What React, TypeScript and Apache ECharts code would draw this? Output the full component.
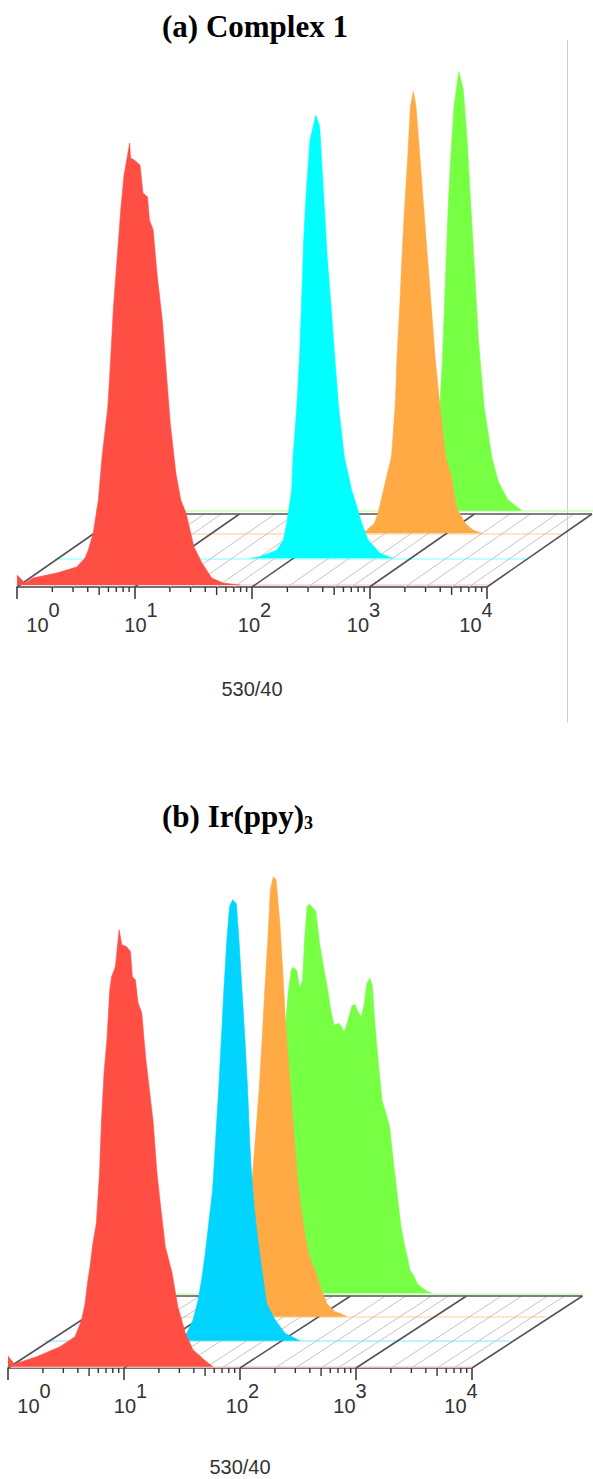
import React, { useEffect, useRef } from "react";
import * as echarts from "echarts";

// ---------------- data ----------------
// x: log10 of 530/40 fluorescence intensity (axis shows 10^0 .. 10^4), y: event count
const DECADES = [0, 1, 2, 3, 4];
const MINOR_MULT = [2, 3, 4, 5, 6, 7, 8, 9];
const FLOOR_MINOR_MULT = [2, 3, 5, 7];
const AXIS_NAME = "530/40";
const TITLE_A = "(a) Complex 1";
const TITLE_B_MAIN = "(b) Ir(ppy)";
const TITLE_B_SUB = "3";
const SERIES_NAMES = ["control", "sample 1", "sample 2", "sample 3"];

const A_RED = [
  [0.0, 10], [0.068, 2], [0.136, 7], [0.338, 12], [0.508, 18], [0.579, 27], [0.607, 35],
  [0.649, 52], [0.692, 85], [0.724, 128], [0.773, 178], [0.798, 228], [0.821, 278],
  [0.853, 328], [0.885, 378], [0.911, 410], [0.959, 442], [0.966, 427], [0.998, 425],
  [1.047, 420], [1.072, 392], [1.111, 388], [1.127, 365], [1.159, 355], [1.191, 312],
  [1.239, 262], [1.271, 212], [1.304, 162], [1.352, 112], [1.394, 85], [1.438, 72],
  [1.506, 38], [1.574, 22], [1.657, 7], [1.753, 2], [1.9, 0],
];
const A_CYAN = [
  [1.655, 0], [1.74, 1.6], [1.883, 8], [1.939, 18], [1.968, 35], [2.01, 68], [2.022, 102],
  [2.054, 152], [2.077, 202], [2.093, 252], [2.112, 318], [2.135, 368], [2.166, 418],
  [2.215, 443], [2.248, 432], [2.28, 368], [2.312, 302], [2.345, 252], [2.376, 202],
  [2.409, 152], [2.457, 102], [2.521, 68], [2.563, 52], [2.606, 35], [2.662, 18],
  [2.762, 5], [2.872, 0],
];
const A_ORANGE = [
  [2.302, 0], [2.335, 3], [2.399, 10], [2.431, 20], [2.464, 37], [2.496, 53], [2.545, 77],
  [2.576, 127], [2.592, 177], [2.615, 227], [2.634, 277], [2.657, 327], [2.683, 377],
  [2.706, 427], [2.731, 442], [2.753, 427], [2.786, 377], [2.818, 327], [2.85, 277],
  [2.883, 227], [2.915, 177], [2.957, 127], [3.004, 77], [3.06, 53], [3.094, 27],
  [3.17, 10], [3.241, 3], [3.315, 0],
];
const A_GREEN = [
  [2.426, 0], [2.511, 8], [2.57, 30], [2.604, 60], [2.637, 104], [2.66, 154], [2.676, 204],
  [2.692, 254], [2.708, 304], [2.73, 354], [2.757, 404], [2.798, 439], [2.837, 421],
  [2.869, 371], [2.901, 304], [2.934, 237], [2.965, 171], [3.014, 104], [3.078, 54],
  [3.132, 30], [3.174, 20], [3.217, 11], [3.291, 4], [3.334, 0],
];

const B_RED = [
  [0.0, 10.7], [0.06, 2], [0.075, 3.4], [0.247, 10], [0.448, 20], [0.578, 30], [0.635, 47],
  [0.664, 63], [0.687, 85], [0.707, 100], [0.73, 122], [0.762, 144], [0.789, 194],
  [0.805, 244], [0.828, 294], [0.853, 327], [0.877, 377], [0.893, 390], [0.926, 400],
  [0.958, 437], [0.981, 422], [1.023, 420], [1.056, 415], [1.072, 390], [1.098, 387],
  [1.121, 364], [1.153, 354], [1.186, 310], [1.219, 277], [1.252, 244], [1.284, 194],
  [1.316, 160], [1.356, 120], [1.414, 94], [1.464, 60], [1.528, 34], [1.594, 17],
  [1.691, 7], [1.767, 0],
];
const B_CYAN = [
  [1.095, 0], [1.178, 2.5], [1.222, 7.4], [1.276, 20.7], [1.319, 40], [1.349, 60],
  [1.379, 85], [1.412, 118], [1.445, 151], [1.471, 201], [1.497, 251], [1.52, 301],
  [1.542, 351], [1.568, 401], [1.591, 434], [1.617, 441], [1.65, 437], [1.672, 401],
  [1.698, 351], [1.724, 301], [1.747, 251], [1.764, 201], [1.78, 168], [1.803, 134],
  [1.836, 100], [1.871, 70], [1.911, 37], [1.983, 21], [2.069, 7.4], [2.155, 2.4],
  [2.198, 0],
];
const B_ORANGE = [
  [1.147, 0], [1.233, 10], [1.319, 30], [1.405, 70], [1.448, 110], [1.494, 177],
  [1.527, 227], [1.553, 277], [1.576, 327], [1.602, 377], [1.624, 427], [1.65, 440],
  [1.673, 437], [1.706, 393], [1.732, 343], [1.755, 293], [1.787, 243], [1.82, 193],
  [1.853, 143], [1.885, 110], [1.928, 77], [1.966, 57], [2.009, 47], [2.052, 30],
  [2.112, 13], [2.181, 5], [2.224, 3.4], [2.282, 0],
];
const B_GREEN = [
  [1.138, 0], [1.224, 15], [1.31, 60], [1.379, 150], [1.431, 250], [1.467, 300],
  [1.493, 323], [1.509, 326], [1.542, 323], [1.565, 305], [1.591, 313], [1.608, 353],
  [1.63, 387], [1.65, 389], [1.683, 385], [1.705, 382], [1.738, 350], [1.771, 327],
  [1.803, 307], [1.835, 283], [1.862, 268], [1.901, 270], [1.924, 267], [1.95, 261],
  [1.983, 273], [2.015, 287], [2.041, 289], [2.064, 283], [2.097, 276], [2.119, 287],
  [2.146, 310], [2.172, 315], [2.194, 307], [2.21, 277], [2.227, 253], [2.253, 220],
  [2.276, 193], [2.309, 180], [2.341, 167], [2.373, 133], [2.406, 100], [2.439, 67],
  [2.472, 47], [2.5, 33], [2.517, 23], [2.552, 17], [2.578, 10], [2.603, 7],
  [2.664, 2], [2.707, 0],
];

// ---------------- layout / style ----------------
const Y_MAX = 500; // count axis max; grid height (px) equals Y_MAX
const LABEL_SHIFT = [26, 6.5, 2.5, -6, -11];
const SANS = "Liberation Sans";
const SERIF = "Liberation Serif";

const PANELS = [
  {
    axisLeft: 17, decade: 117.5, axisY: 587, nameGap: 94,
    baselines: [585, 558.3, 533.3, 510.7], dx: [0, 38.5, 75.5, 113],
    floorDx: 105, floorDy: 73,
    data: [A_RED, A_CYAN, A_ORANGE, A_GREEN],
    colors: ["#FF4F45", "#00FFFF", "#FFAA44", "#77FF44"],
    lineColors: ["#FFCFCF", "#A8FFFF", "#FFDDB8", "#CDFFBC"],
  },
  {
    axisLeft: 8, decade: 116, axisY: 1368, nameGap: 91,
    baselines: [1366.7, 1340.7, 1316.7, 1293.3], dx: [0, 37, 74, 110],
    floorDx: 110.5, floorDy: 72,
    data: [B_RED, B_CYAN, B_ORANGE, B_GREEN],
    colors: ["#FF4F45", "#00D4FF", "#FFAA44", "#77FF44"],
    lineColors: ["#FFCFCF", "#A8EEFF", "#FFDDB8", "#CDFFBC"],
  },
];

function labelRich() {
  const rich: any = {
    b: { fontFamily: SANS, fontSize: 20, lineHeight: 20, color: "#333", verticalAlign: "bottom" },
    s: { fontFamily: SANS, fontSize: 20, lineHeight: 20, color: "#333", verticalAlign: "top" },
  };
  LABEL_SHIFT.forEach((s, i) => {
    rich["L" + i] = { width: Math.max(0, 2 * s), lineHeight: 35, fontSize: 20 };
    rich["R" + i] = { width: Math.max(0, -2 * s), lineHeight: 35, fontSize: 20 };
  });
  return rich;
}

function buildOption() {
  const grid: any[] = [];
  const xAxis: any[] = [];
  const yAxis: any[] = [];
  const series: any[] = [];

  PANELS.forEach((p) => {
    const width = p.decade * 4;
    const ai = grid.length;
    grid.push({ left: p.axisLeft, top: p.axisY - 100, width, height: 100, containLabel: false, outerBoundsMode: "none" });
    xAxis.push({
      gridIndex: ai, type: "value", min: 0, max: 4, interval: 1, position: "bottom",
      axisLine: { show: true, onZero: false, lineStyle: { color: "#444", width: 1.6 } },
      axisTick: { show: true, length: 12, lineStyle: { color: "#333", width: 1.5 } },
      axisLabel: {
        show: true, margin: 13, showMinLabel: true, showMaxLabel: true, hideOverlap: false,
        formatter: (v: number, idx: number) => {
          const s = LABEL_SHIFT[idx] ?? 0;
          const main = `{b|10}{s|${v}}`;
          return s >= 0 ? `{L${idx}| }${main}` : `${main}{R${idx}| }`;
        },
        rich: labelRich(),
      },
      splitLine: { show: false },
      name: AXIS_NAME, nameLocation: "middle", nameGap: p.nameGap,
      nameTextStyle: { fontFamily: SANS, fontSize: 20, lineHeight: 15, color: "#333", verticalAlign: "top" },
    });
    yAxis.push({ gridIndex: ai, type: "value", min: 0, max: 1, show: false });

    // floor diagonals (majors at decades, light ones at selected multipliers)
    const floorData: number[][] = [];
    DECADES.forEach((d) => floorData.push([d, 1]));
    DECADES.slice(0, -1).forEach((d) =>
      FLOOR_MINOR_MULT.forEach((m) => floorData.push([d + Math.log10(m), 0]))
    );
    series.push({
      type: "custom", xAxisIndex: ai, yAxisIndex: ai, z: 1, silent: true, clip: false,
      data: floorData,
      renderItem: (_params: any, api: any) => {
        const major = api.value(1) === 1;
        const pt = api.coord([api.value(0), 0]);
        return {
          type: "line",
          shape: { x1: pt[0], y1: pt[1], x2: pt[0] + p.floorDx, y2: pt[1] - p.floorDy },
          style: { stroke: major ? "#555" : "#c4c4c4", lineWidth: major ? 1.6 : 1 },
        };
      },
    });
    // floor back edge
    series.push({
      type: "custom", xAxisIndex: ai, yAxisIndex: ai, z: 1, silent: true, clip: false,
      data: [[DECADES[0], DECADES[DECADES.length - 1]]],
      renderItem: (_params: any, api: any) => {
        const a = api.coord([api.value(0), 0]);
        const b = api.coord([api.value(1), 0]);
        return {
          type: "line",
          shape: { x1: a[0] + p.floorDx, y1: a[1] - p.floorDy, x2: b[0] + p.floorDx, y2: b[1] - p.floorDy },
          style: { stroke: "#555", lineWidth: 1.6 },
        };
      },
    });
    // minor ticks on the log axis
    const minorData: number[][] = [];
    DECADES.slice(0, -1).forEach((d) =>
      MINOR_MULT.forEach((m) => minorData.push([d + Math.log10(m), m === 5 ? 1 : 0]))
    );
    series.push({
      type: "custom", xAxisIndex: ai, yAxisIndex: ai, z: 3, silent: true, clip: false,
      data: minorData,
      renderItem: (_params: any, api: any) => {
        const mid = api.value(1) === 1;
        const pt = api.coord([api.value(0), 0]);
        return {
          type: "line",
          shape: { x1: pt[0], y1: pt[1], x2: pt[0], y2: pt[1] + (mid ? 8 : 5) },
          style: { stroke: "#333", lineWidth: 1.4 },
        };
      },
    });

    p.data.forEach((data, i) => {
      const gi = grid.length;
      grid.push({ left: p.axisLeft + p.dx[i], top: p.baselines[i] - Y_MAX, width, height: Y_MAX, containLabel: false, outerBoundsMode: "none" });
      xAxis.push({
        gridIndex: gi, type: "value", min: 0, max: 4,
        axisLine: { show: true, onZero: false, lineStyle: { color: p.lineColors[i], width: 1.5 } },
        axisTick: { show: false }, axisLabel: { show: false }, splitLine: { show: false },
      });
      yAxis.push({ gridIndex: gi, type: "value", min: 0, max: Y_MAX, show: false });
      series.push({
        type: "line", name: SERIES_NAMES[i], xAxisIndex: gi, yAxisIndex: gi, data,
        symbol: "none", showSymbol: false, smooth: false, clip: false,
        lineStyle: { width: 0.6, color: p.colors[i] },
        areaStyle: { color: p.colors[i], opacity: 1 },
        z: 10 - i,
      });
    });
  });

  return {
    animation: false,
    backgroundColor: "#fff",
    title: [
      {
        text: TITLE_A, left: 162, top: 11, padding: 0,
        textStyle: { fontFamily: SERIF, fontWeight: "bold", fontSize: 31, lineHeight: 31, color: "#000" },
      },
      {
        text: `{m|${TITLE_B_MAIN}}{s|${TITLE_B_SUB}}`, left: 162, top: 801, padding: 0,
        textStyle: {
          rich: {
            m: { fontFamily: SERIF, fontWeight: "bold", fontSize: 31, lineHeight: 31, color: "#000", verticalAlign: "bottom" },
            s: { fontFamily: SERIF, fontWeight: "bold", fontSize: 18, lineHeight: 18, color: "#000", verticalAlign: "bottom" },
          },
        },
      },
    ],
    graphic: [
      { type: "line", silent: true, shape: { x1: 567.5, y1: 40, x2: 567.5, y2: 722 }, style: { stroke: "#cccccc", lineWidth: 1 } },
    ],
    grid, xAxis, yAxis, series,
  };
}

export default function App() {
  const ref = useRef<HTMLDivElement>(null);
  useEffect(() => {
    document.body.style.margin = "0";
    const chart = echarts.init(ref.current!, undefined, { renderer: "svg" });
    chart.setOption(buildOption() as any);
    return () => chart.dispose();
  }, []);
  return <div ref={ref} style={{ width: 593, height: 1479 }} />;
}
